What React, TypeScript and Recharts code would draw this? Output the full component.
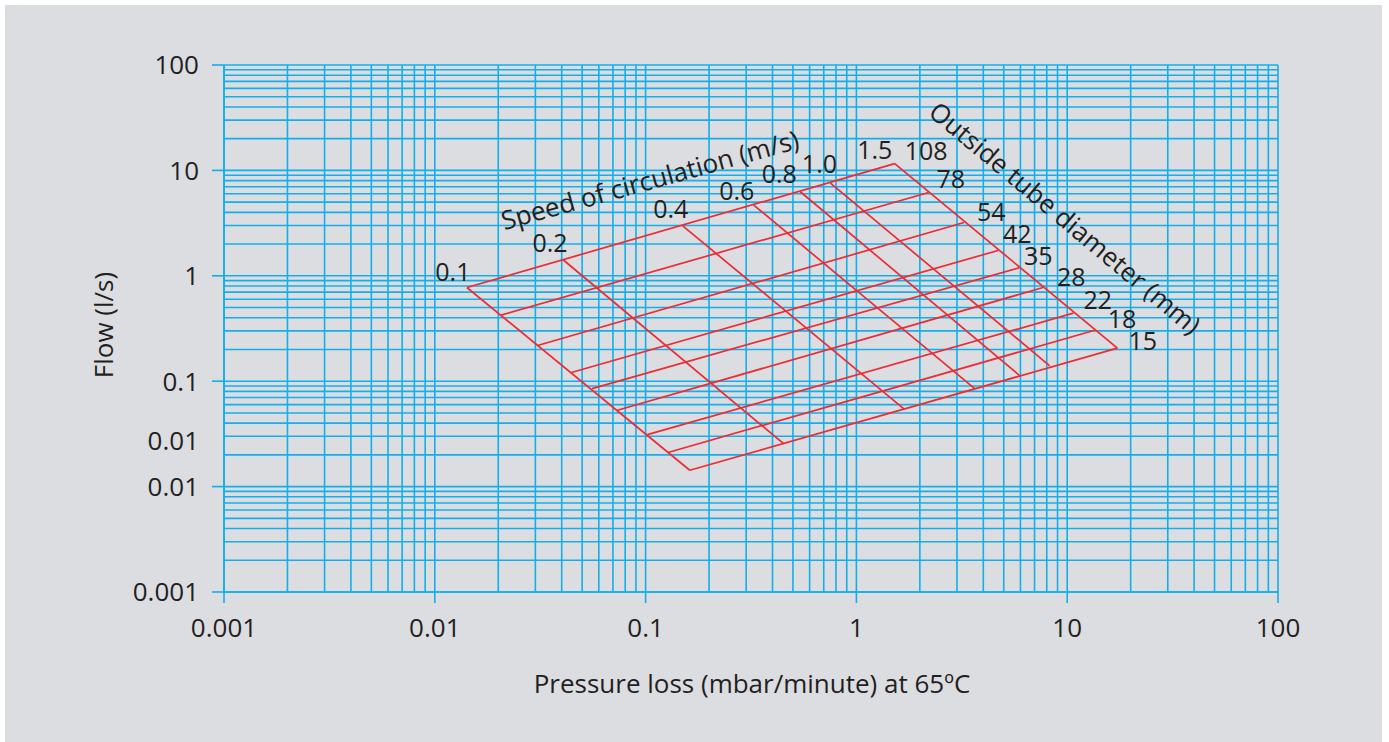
import React from "react";
import { LineChart, Line, XAxis, YAxis, ReferenceLine } from "recharts";

const FONT = '"Open Sans", "Noto Sans", sans-serif';
const INK = "#231f20";
const CYAN = "#12afeb";
const RED = "#ec2b34";

// axis ticks
const xTicks = [0.001, 0.01, 0.1, 1, 10, 100];
const xTickLabels = ["0.001", "0.01", "0.1", "1", "10", "100"];
const yTicks = [0.001, 0.01, 0.027, 0.1, 1, 10, 100];
const yTickLabels = ["0.001", "0.01", "0.01", "0.1", "1", "10", "100"];

// log paper grid: 1..9 in every decade
const decades = [0.001, 0.01, 0.1, 1, 10];
const gridSteps = [1, 2, 3, 4, 5, 6, 7, 8, 9];
const gridValues = [
  ...decades.flatMap((d) => gridSteps.map((s) => +(d * s).toPrecision(3))),
  100,
];

// speed of circulation (m/s): where each line meets the 108 mm line and the 15 mm line
const speeds = ["0.1", "0.2", "0.4", "0.6", "0.8", "1.0", "1.5"];
const speedTopP = [0.0142, 0.0406, 0.15, 0.326, 0.542, 0.753, 1.52];
const speedTopQ = [0.774, 1.42, 2.98, 4.68, 6.27, 7.58, 11.6];
const speedBottomP = [0.162, 0.453, 1.68, 3.64, 5.95, 8.26, 17.3];
const speedBottomQ = [0.0143, 0.0254, 0.0546, 0.0851, 0.113, 0.14, 0.206];

// outside tube diameter (mm): ends at 0.1 m/s and at 1.5 m/s
const diameters = ["108", "78", "54", "42", "35", "28", "22", "18", "15"];
const diamStartP = [0.0142, 0.0206, 0.0307, 0.0445, 0.0557, 0.0735, 0.102, 0.129, 0.162];
const diamStartQ = [0.774, 0.423, 0.218, 0.121, 0.0851, 0.053, 0.0311, 0.0212, 0.0143];
const diamEndP = [1.52, 2.2, 3.24, 4.7, 5.91, 7.68, 10.7, 13.5, 17.3];
const diamEndQ = [11.6, 6.17, 3.2, 1.74, 1.19, 0.774, 0.442, 0.304, 0.206];

// hand placement of the line labels (pixel nudge from the line end)
const speedLabelDx = [-14, -13, -12, -17, -21, -11, -20];
const speedLabelDy = [-16, -17, -17, -14, -18, -19, -14];
const diamLabelDx = [10, 8, 13, 5, 5, 14, 10, 13, 11];
const diamLabelDy = [-13, -14, -11, -16, -12, -11, -13, -11, -7];

const speedLines = speeds.map((name, i) => ({
  name,
  points: [
    { p: speedTopP[i], q: speedTopQ[i] },
    { p: speedBottomP[i], q: speedBottomQ[i] },
  ],
}));

const diameterLines = diameters.map((name, i) => ({
  name,
  points: [
    { p: diamStartP[i], q: diamStartQ[i] },
    { p: diamEndP[i], q: diamEndQ[i] },
  ],
}));

const textStyle = { fontFamily: FONT, fontSize: 26, fill: INK };
const markStyle = { fontFamily: FONT, fontSize: 25, fill: INK };

const isDecade = (v: number) =>
  Math.abs(Math.log10(v) - Math.round(Math.log10(v))) < 1e-6;

const YTick = (props: any) => {
  const { x, y, payload } = props;
  const i = yTicks.indexOf(payload.value);
  return (
    <g>
      {isDecade(payload.value) && (
        <line x1={x + 13} x2={x + 25} y1={y} y2={y} stroke={CYAN} strokeWidth={1.6} />
      )}
      <text x={x} y={y} dy="0.36em" textAnchor="end" style={textStyle}>
        {yTickLabels[i]}
      </text>
    </g>
  );
};

export default function App() {
  return (
    <div
      style={{
        position: "absolute",
        left: 0,
        top: 0,
        width: 1389,
        height: 742,
        background: "#ffffff",
        overflow: "hidden",
      }}
    >
      <div
        style={{
          position: "absolute",
          left: 5,
          top: 5,
          width: 1377,
          height: 737,
          background: "#dcdde0",
        }}
      >
        <LineChart
          width={1377}
          height={737}
          margin={{ top: 60, right: 104, bottom: 90, left: 129 }}
        >
          <XAxis
            dataKey="p"
            type="number"
            scale="log"
            domain={[0.001, 100]}
            allowDataOverflow
            ticks={xTicks}
            interval={0}
            height={60}
            tickSize={11}
            tickMargin={16}
            tickFormatter={(v: number) => xTickLabels[xTicks.indexOf(v)]}
            tick={textStyle}
            tickLine={{ stroke: CYAN, strokeWidth: 1.6 }}
            axisLine={{ stroke: CYAN, strokeWidth: 1.6 }}
          />
          <YAxis
            dataKey="q"
            type="number"
            scale="log"
            domain={[0.001, 100]}
            allowDataOverflow
            ticks={yTicks}
            interval={0}
            width={90}
            tickSize={12}
            tickMargin={13}
            tick={<YTick />}
            tickLine={false}
            axisLine={{ stroke: CYAN, strokeWidth: 1.6 }}
          />
          {gridValues.map((v) => (
            <ReferenceLine key={"gx" + v} x={v} stroke={CYAN} strokeWidth={1.6} />
          ))}
          {gridValues.map((v) => (
            <ReferenceLine key={"gy" + v} y={v} stroke={CYAN} strokeWidth={1.6} />
          ))}
          {speedLines.map((s, si) => (
            <Line
              key={"s" + s.name}
              data={s.points}
              dataKey="q"
              type="linear"
              stroke={RED}
              strokeWidth={1.7}
              dot={false}
              activeDot={false}
              legendType="none"
              isAnimationActive={false}
              label={(lp: any) =>
                lp.index === 0 ? (
                  <text
                    key={"sl" + s.name}
                    x={lp.x + speedLabelDx[si]}
                    y={lp.y + speedLabelDy[si]}
                    dy="0.36em"
                    textAnchor="middle"
                    style={markStyle}
                  >
                    {s.name}
                  </text>
                ) : (
                  <g key={"sl" + s.name + lp.index} />
                )
              }
            />
          ))}
          {diameterLines.map((d, di) => (
            <Line
              key={"d" + d.name}
              data={d.points}
              dataKey="q"
              type="linear"
              stroke={RED}
              strokeWidth={1.7}
              dot={false}
              activeDot={false}
              legendType="none"
              isAnimationActive={false}
              label={(lp: any) =>
                lp.index === 1 ? (
                  <text
                    key={"dl" + d.name}
                    x={lp.x + diamLabelDx[di]}
                    y={lp.y + diamLabelDy[di]}
                    dy="0.36em"
                    textAnchor="start"
                    style={markStyle}
                  >
                    {d.name}
                  </text>
                ) : (
                  <g key={"dl" + d.name + lp.index} />
                )
              }
            />
          ))}
        </LineChart>
      </div>
      <svg
        width={1389}
        height={742}
        style={{ position: "absolute", left: 0, top: 0, pointerEvents: "none" }}
      >
        <text
          x={104}
          y={325}
          dy="0.36em"
          textAnchor="middle"
          transform="rotate(-90 104 325)"
          style={textStyle}
        >
          Flow (l/s)
        </text>
        <text x={752} y={684} dy="0.36em" textAnchor="middle" style={textStyle}>
          Pressure loss (mbar/minute) at 65ºC
        </text>
        <text
          x={650}
          y={180}
          dy="0.36em"
          textAnchor="middle"
          transform="rotate(-15.5 650 180)"
          style={textStyle}
        >
          Speed of circulation (m/s)
        </text>
        <text
          x={1065}
          y={218}
          dy="0.36em"
          textAnchor="middle"
          transform="rotate(40 1065 218)"
          style={textStyle}
        >
          Outside tube diameter (mm)
        </text>
      </svg>
    </div>
  );
}
